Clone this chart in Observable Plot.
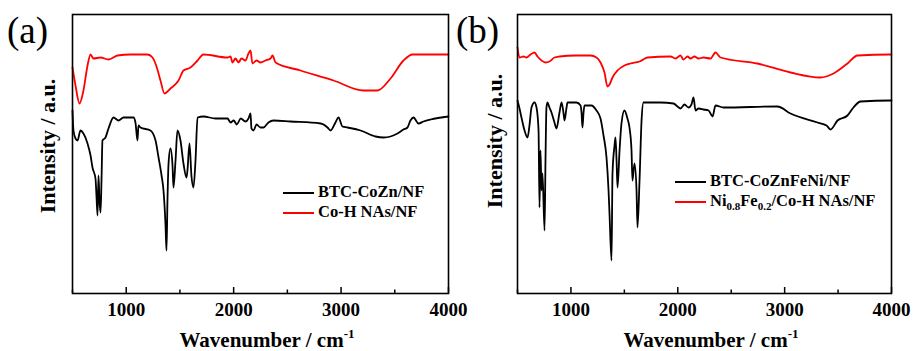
<!DOCTYPE html>
<html>
<head>
<meta charset="utf-8">
<script src="https://cdn.jsdelivr.net/npm/d3@7"></script>
<script src="https://cdn.jsdelivr.net/npm/@observablehq/plot@0.6"></script>
<style>
  html, body { margin: 0; padding: 0; background: #fff; }
  #root { position: relative; width: 914px; height: 351px; overflow: hidden; font-family: "Liberation Serif", "Times New Roman", serif; }
  .panel { position: absolute; top: 0; }
  .tag { position: absolute; font-size: 37px; line-height: 1; }
  .xlab { position: absolute; font-size: 21px; font-weight: bold; white-space: nowrap; transform: translate(-50%, -50%); }
  .xlab sup { font-size: 13px; vertical-align: 9px; }
  .ylab { position: absolute; font-size: 22px; font-weight: bold; white-space: nowrap; transform: translate(-50%, -50%) rotate(-90deg); }
  .leg { position: absolute; font-size: 16.5px; font-weight: bold; white-space: nowrap; }
  .leg .row { position: relative; height: 20px; line-height: 20px; }
  .leg svg { vertical-align: middle; margin-right: 4px; }
  .leg sub { font-size: 11px; vertical-align: -4px; line-height: 0; }
</style>
</head>
<body>
<div id="root"></div>
<script>
// ---- data (wavenumber, cm^-1 ; intensity, arbitrary units) ----
const xMajorTicks = [1000, 2000, 3000, 4000];
const xMinorTicks = [500, 1500, 2500, 3500];

// Panel (a): BTC-CoZn/NF
const aBtcWn = [500,509,528,547,574,602,640,668,686,714,723,733,742,751,761,770,779,807,835,882,928,975,1068,1086,1105,1114,1133,1226,1273,1301,1329,1347,1366,1375,1384,1394,1412,1431,1440,1459,1477,1505,1533,1561,1570,1589,1607,1626,1645,1664,1719,1831,1943,1971,2001,2029,2066,2110,2138,2157,2166,2185,2213,2250,2278,2324,2371,2529,2809,2874,2902,2948,2976,3013,3060,3181,3321,3395,3460,3525,3581,3618,3646,3674,3721,3767,3833,4000];
const aBtcVal = [183,163,155,153,163,160,150,138,126,115,98,78,118,93,81,113,153,156,165,176,173,176,176,171,153,168,166,163,153,136,118,103,68,43,93,130,145,128,106,133,163,153,130,116,123,150,118,106,133,176,177,175,175,171,173,169,175,172,175,180,165,163,169,166,166,171,173,172,170,166,163,171,176,167,166,163,157,156,157,160,164,166,173,176,170,172,174,177];

// Panel (a): Co-H NAs/NF
const aCohWn = [500,528,565,602,640,668,695,761,835,919,1040,1198,1245,1282,1319,1356,1412,1487,1533,1598,1664,1719,1943,1971,1989,2017,2045,2073,2110,2138,2157,2175,2213,2250,2297,2343,2362,2390,2622,2930,3209,3339,3460,3581,3665,4000];
const aCohVal = [226,208,190,203,228,239,235,236,234,238,239,239,236,227,213,200,205,213,223,226,233,239,236,237,231,235,231,235,233,240,243,230,233,231,233,235,238,231,223,213,203,203,215,233,239,239];

// Panel (b): BTC-CoZnFeNi/NF
const bBtcWn = [500,519,537,566,594,612,631,659,678,697,706,715,725,734,753,762,771,781,799,818,846,865,893,912,930,940,959,968,1052,1090,1099,1108,1118,1127,1192,1239,1277,1305,1333,1352,1361,1380,1389,1408,1417,1427,1436,1455,1473,1501,1529,1548,1567,1576,1595,1614,1623,1642,1661,1679,1838,1960,1997,2025,2063,2100,2128,2147,2166,2194,2241,2288,2325,2353,2428,2933,3055,3307,3392,3429,3495,3588,3644,3710,3991,4000];
const bBtcVal = [193,185,176,163,156,168,186,191,186,163,86,143,103,120,63,133,186,191,186,181,171,165,181,191,181,173,186,191,191,188,181,166,181,188,188,183,175,158,136,103,80,33,120,148,156,133,106,143,170,183,175,166,143,113,130,103,66,113,173,191,191,190,187,185,189,186,189,196,183,185,184,183,177,188,186,187,180,171,168,164,173,178,186,192,193,193];

// Panel (b): Ni0.8Fe0.2/Co-H NAs/NF
const bNifeWn = [500,519,556,584,622,659,687,725,762,799,846,893,1043,1183,1239,1277,1314,1342,1361,1389,1436,1501,1557,1642,1717,1932,1979,2025,2053,2091,2119,2156,2194,2241,2306,2353,2381,2400,2746,3055,3335,3457,3588,3682,3991,4000];
const bNifeVal = [246,236,237,236,239,241,237,233,231,232,236,237,238,238,236,231,221,207,209,216,223,228,230,232,236,237,235,238,234,237,235,237,235,236,235,241,238,236,230,221,216,220,230,238,239,239];

const seriesColors = ["#000000", "#ff0000"];

function toRows(wn, val) { return wn.map((w, i) => ({wn: w, v: val[i]})); }

function panel(blackRows, redRows, opts) {
  return Plot.plot({
    width: 457,
    height: 351,
    marginLeft: opts.ml,
    marginRight: opts.mr,
    marginTop: 14,
    marginBottom: 58,
    style: {fontFamily: '"Liberation Serif", "Times New Roman", serif', fontSize: "19px", fontWeight: "bold", background: "transparent", overflow: "visible"},
    x: {domain: [500, 4000]},
    y: {domain: [0, 279], axis: null},
    marks: [
      Plot.line(blackRows, {x: "wn", y: "v", stroke: seriesColors[0], strokeWidth: 1.8, curve: "monotone-x"}),
      Plot.line(redRows, {x: "wn", y: "v", stroke: seriesColors[1], strokeWidth: 1.8, curve: "monotone-x"}),
      Plot.ruleX(xMajorTicks, {y1: 0, y2: 6, stroke: "black", strokeWidth: 1.5}),
      Plot.ruleX(xMinorTicks, {y1: 0, y2: 3.5, stroke: "black", strokeWidth: 1.5}),
      Plot.axisX({ticks: xMajorTicks, tickSize: 0, tickPadding: 9, label: null, tickFormat: d => String(d), fontSize: 19, fontWeight: "bold", fill: "black"}),
      Plot.frame({stroke: "black", strokeWidth: 1.6})
    ]
  });
}

const root = document.getElementById("root");

const pa = panel(toRows(aBtcWn, aBtcVal), toRows(aCohWn, aCohVal), {ml: 72, mr: 9});
pa.classList.add("panel"); pa.style.left = "0px";
root.appendChild(pa);

const pb = panel(toRows(bBtcWn, bBtcVal), toRows(bNifeWn, bNifeVal), {ml: 60, mr: 23});
pb.classList.add("panel"); pb.style.left = "457px";
root.appendChild(pb);

function addHTML(html) { root.insertAdjacentHTML("beforeend", html); }
const sw = c => `<svg width="31" height="4"><line x1="0" y1="2" x2="31" y2="2" stroke="${c}" stroke-width="2"/></svg>`;

addHTML(`<div class="tag" style="left:7px;top:12px;">(a)</div>`);
addHTML(`<div class="tag" style="left:456px;top:12px;">(b)</div>`);
addHTML(`<div class="xlab" style="left:267px;top:339px;">Wavenumber / cm<sup>-1</sup></div>`);
addHTML(`<div class="xlab" style="left:711px;top:339px;">Wavenumber / cm<sup>-1</sup></div>`);
addHTML(`<div class="ylab" style="left:48px;top:146px;">Intensity / a.u.</div>`);
addHTML(`<div class="ylab" style="left:495px;top:141px;">Intensity / a.u.</div>`);
addHTML(`<div class="leg" style="left:283px;top:182px;"><div class="row">${sw(seriesColors[0])}BTC-CoZn/NF</div><div class="row">${sw(seriesColors[1])}Co-H NAs/NF</div></div>`);
addHTML(`<div class="leg" style="left:675px;top:171px;"><div class="row">${sw(seriesColors[0])}BTC-CoZnFeNi/NF</div><div class="row">${sw(seriesColors[1])}Ni<sub>0.8</sub>Fe<sub>0.2</sub>/Co-H NAs/NF</div></div>`);
</script>
</body>
</html>
